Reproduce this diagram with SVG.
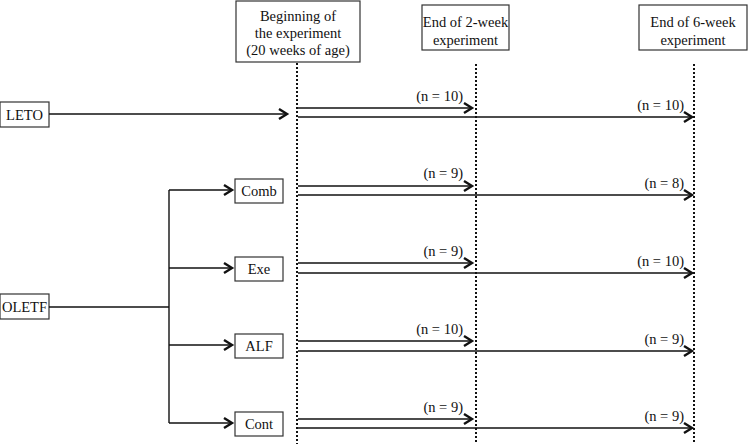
<svg xmlns="http://www.w3.org/2000/svg" width="749" height="444" viewBox="0 0 749 444">
<style>
text{font-family:"Liberation Serif","Times New Roman",serif;font-size:14.5px;fill:#111}
.box{fill:#fff;stroke:#333;stroke-width:1.2}
.ln{fill:none;stroke:#111;stroke-width:1.4}
.dot{fill:none;stroke:#111;stroke-width:2;stroke-dasharray:2 2}
.c{text-anchor:middle}
.r{text-anchor:end}
</style>
<defs>
<marker id="ah" markerUnits="userSpaceOnUse" markerWidth="14" markerHeight="14" refX="9" refY="6" orient="auto">
<path d="M1,1 L9,6 L1,11" fill="none" stroke="#111" stroke-width="2.4"/>
</marker>
</defs>
<g id="timeline">
<line class="dot" x1="297" y1="63" x2="297" y2="444"/>
<line class="dot" x1="476" y1="64" x2="476" y2="444"/>
<line class="dot" x1="694" y1="64" x2="694" y2="444"/>
</g>
<g id="h-begin"><rect class="box" x="236" y="1" width="124" height="61"/>
<text class="c" x="298" y="21">Beginning of</text>
<text class="c" x="298" y="38">the experiment</text>
<text class="c" x="298" y="55">(20 weeks of age)</text></g>
<g id="h-2w"><rect class="box" x="422" y="5" width="87" height="45"/>
<text class="c" x="465.5" y="27">End of 2-week</text>
<text class="c" x="465.5" y="45">experiment</text></g>
<g id="h-6w"><rect class="box" x="639" y="5" width="108" height="45"/>
<text class="c" x="693" y="27">End of 6-week</text>
<text class="c" x="693" y="45">experiment</text></g>
<g id="leto"><rect class="box" x="0" y="102" width="49" height="25"/><text class="c" x="24.5" y="120">LETO</text></g>
<g id="oletf"><rect class="box" x="0" y="294" width="49" height="25"/><text class="c" x="24.5" y="312">OLETF</text></g>
<g id="comb"><rect class="box" x="235" y="179" width="48" height="24"/><text class="c" x="259" y="196">Comb</text></g>
<g id="exe"><rect class="box" x="235" y="257" width="48" height="24"/><text class="c" x="259" y="274">Exe</text></g>
<g id="alf"><rect class="box" x="235" y="334" width="48" height="24"/><text class="c" x="259" y="351">ALF</text></g>
<g id="cont"><rect class="box" x="235" y="412" width="48" height="24"/><text class="c" x="259" y="429">Cont</text></g>
<g id="connectors">
<line class="ln" x1="49" y1="114" x2="287" y2="114" marker-end="url(#ah)"/>
<polyline class="ln" points="49,307 169,307"/>
<line class="ln" x1="169" y1="190" x2="169" y2="423"/>
<line class="ln" x1="169" y1="190" x2="232" y2="190" marker-end="url(#ah)"/>
<line class="ln" x1="169" y1="268" x2="232" y2="268" marker-end="url(#ah)"/>
<line class="ln" x1="169" y1="345" x2="232" y2="345" marker-end="url(#ah)"/>
<line class="ln" x1="169" y1="423" x2="232" y2="423" marker-end="url(#ah)"/>
<line class="ln" x1="298" y1="108" x2="472" y2="108" marker-end="url(#ah)"/>
<line class="ln" x1="298" y1="117" x2="692" y2="117" marker-end="url(#ah)"/>
<line class="ln" x1="298" y1="186" x2="472" y2="186" marker-end="url(#ah)"/>
<line class="ln" x1="298" y1="195" x2="692" y2="195" marker-end="url(#ah)"/>
<line class="ln" x1="298" y1="263" x2="472" y2="263" marker-end="url(#ah)"/>
<line class="ln" x1="298" y1="273" x2="692" y2="273" marker-end="url(#ah)"/>
<line class="ln" x1="298" y1="341" x2="472" y2="341" marker-end="url(#ah)"/>
<line class="ln" x1="298" y1="351" x2="692" y2="351" marker-end="url(#ah)"/>
<line class="ln" x1="298" y1="419" x2="472" y2="419" marker-end="url(#ah)"/>
<line class="ln" x1="298" y1="428" x2="692" y2="428" marker-end="url(#ah)"/>
</g>
<g id="labels">
<text class="r" x="463" y="101">(n = 10)</text>
<text class="r" x="684" y="110">(n = 10)</text>
<text class="r" x="463" y="178">(n = 9)</text>
<text class="r" x="684" y="188">(n = 8)</text>
<text class="r" x="463" y="256">(n = 9)</text>
<text class="r" x="684" y="266">(n = 10)</text>
<text class="r" x="463" y="334">(n = 10)</text>
<text class="r" x="684" y="344">(n = 9)</text>
<text class="r" x="463" y="412">(n = 9)</text>
<text class="r" x="684" y="421">(n = 9)</text>
</g>
</svg>
